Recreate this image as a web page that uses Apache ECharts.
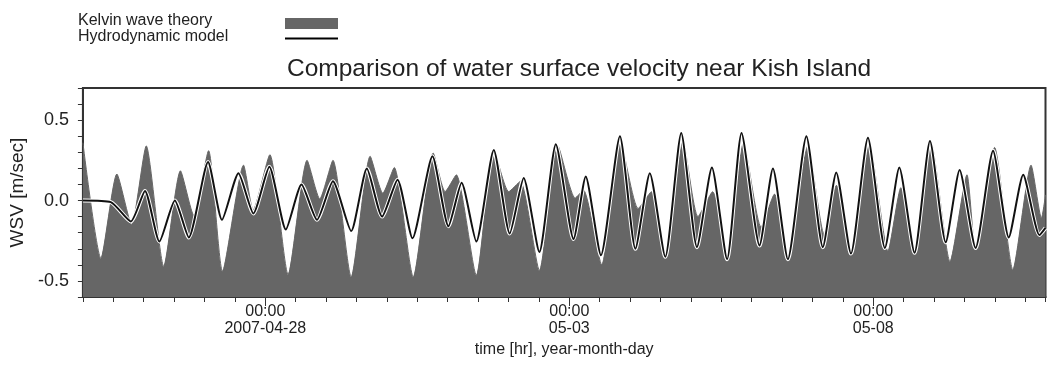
<!DOCTYPE html>
<html>
<head>
<meta charset="utf-8">
<script src="https://cdn.jsdelivr.net/npm/echarts@6/dist/echarts.min.js"></script>
<style>
html,body{margin:0;padding:0;background:#fff;}
#chart{width:1047px;height:377px;}
</style>
</head>
<body>
<div id="chart"></div>
<script>
// Hours since 2007-04-25 00:00
const kelvinHours = [0, 7.1, 13.4, 19.2, 25.0, 31.9, 38.5, 43.7, 49.6, 55.1, 63.4, 67.2, 73.8, 81.0, 88.5, 93.5, 98.7, 105.9, 113.4, 118.4, 122.9, 130.4, 138.3, 143.0, 147.4, 155.3, 162.2, 168.1, 172.7, 180.2, 187.5, 194.3, 197.6, 204.8, 212.0, 219.2, 224.4, 230.3, 236.9, 242.8, 248.6, 254.5, 260.8, 267.7, 273.0, 278.3, 286.2, 292.6, 297.5, 303.2, 310.5, 317.8, 322.9, 328.2, 334.9, 342.3, 349.0, 352.3, 359.9, 367.1, 374.3, 378.4, 380];
const kelvinValues = [0.36, -0.36, 0.165, -0.15, 0.34, -0.41, 0.185, -0.09, 0.31, -0.44, 0.22, -0.06, 0.285, -0.46, 0.25, 0.01, 0.25, -0.475, 0.275, 0.045, 0.205, -0.475, 0.295, 0.055, 0.16, -0.465, 0.315, 0.055, 0.12, -0.435, 0.34, 0.015, 0.065, -0.40, 0.38, -0.05, 0.055, -0.36, 0.37, -0.10, 0.055, -0.34, 0.36, -0.165, 0.04, -0.35, 0.34, -0.21, 0.095, -0.33, 0.35, -0.315, 0.08, -0.32, 0.355, -0.38, 0.16, -0.30, 0.33, -0.43, 0.22, -0.11, 0.035];
const hydroHours = [0, 11.0, 18.9, 24.5, 30.2, 36.3, 41.8, 49.4, 54.9, 61.4, 67.3, 73.6, 80.1, 86.3, 92.4, 98.7, 105.9, 112.1, 118.1, 124.2, 130.1, 138.0, 144.3, 149.5, 155.3, 162.2, 168.5, 174.0, 180.2, 186.7, 193.7, 198.5, 204.5, 212.0, 218.1, 223.8, 229.9, 236.2, 242.4, 248.3, 254.3, 260.0, 267.1, 272.4, 278.3, 285.6, 292.1, 297.4, 303.2, 309.9, 316.6, 322.3, 328.3, 334.4, 340.6, 346.1, 352.4, 359.3, 365.5, 371.2, 377.6, 380];
const hydroValues = [0.0, -0.01, -0.13, 0.06, -0.255, 0.0, -0.23, 0.24, -0.12, 0.17, -0.08, 0.21, -0.18, 0.10, -0.12, 0.12, -0.19, 0.20, -0.10, 0.13, -0.235, 0.275, -0.16, 0.11, -0.255, 0.315, -0.205, 0.14, -0.32, 0.35, -0.24, 0.15, -0.34, 0.40, -0.30, 0.17, -0.35, 0.42, -0.29, 0.205, -0.365, 0.42, -0.28, 0.20, -0.365, 0.40, -0.29, 0.175, -0.33, 0.39, -0.295, 0.205, -0.325, 0.37, -0.26, 0.19, -0.295, 0.31, -0.23, 0.16, -0.215, -0.17];
const labelHours = [72, 192, 312];
const labelTexts = ['00:00\n2007-04-28', '00:00\n05-03', '00:00\n05-08'];
const yLabelValues = [-0.5, 0.0, 0.5];

const FONT = '"Liberation Sans", Arial, sans-serif';
const kelvinData = kelvinHours.map((h, i) => [h, kelvinValues[i]]);
const hydroData = hydroHours.map((h, i) => [h, hydroValues[i]]);

const chart = echarts.init(document.getElementById('chart'), null, {renderer: 'canvas'});
chart.setOption({
  animation: false,
  backgroundColor: '#fff',
  textStyle: {fontFamily: FONT},
  title: {
    text: 'Comparison of water surface velocity near Kish Island',
    left: 287, top: 57, padding: 0,
    textStyle: {fontSize: 24.5, fontWeight: 'normal', color: '#222', fontFamily: FONT}
  },
  graphic: [
    {type: 'text', left: 78, top: 13, style: {text: 'Kelvin wave theory', font: '16px ' + FONT, fill: '#222'}},
    {type: 'text', left: 78, top: 29, style: {text: 'Hydrodynamic model', font: '16px ' + FONT, fill: '#222'}},
    {type: 'rect', shape: {x: 285, y: 18, width: 53, height: 11}, style: {fill: '#666'}},
    {type: 'line', shape: {x1: 285, y1: 38.5, x2: 338, y2: 38.5}, style: {stroke: '#000', lineWidth: 2}}
  ],
  grid: {left: 78, right: 1.5, top: 88, bottom: 80, show: true, borderColor: '#333', borderWidth: 2, backgroundColor: 'transparent'},
  xAxis: [
    {
      type: 'value', min: 0, max: 380, interval: 12, position: 'bottom',
      axisLine: {show: true, onZero: false, lineStyle: {color: '#333', width: 2}},
      axisTick: {show: true, length: 5, lineStyle: {color: '#333'}},
      axisLabel: {show: false},
      splitLine: {show: false}
    },
    {
      type: 'value', min: 0, max: 380, position: 'bottom',
      axisLine: {show: false, onZero: false},
      axisTick: {show: true, length: 9, customValues: labelHours, lineStyle: {color: '#333'}},
      axisLabel: {
        show: true, customValues: labelHours, margin: 6,
        fontSize: 16, lineHeight: 17, color: '#222', fontFamily: FONT,
        formatter: v => { const i = labelHours.indexOf(v); return i >= 0 ? labelTexts[i] : ''; }
      },
      splitLine: {show: false},
      name: 'time [hr], year-month-day', nameLocation: 'middle', nameGap: 43,
      nameTextStyle: {fontSize: 16, color: '#222', fontFamily: FONT}
    }
  ],
  yAxis: {
    type: 'value', min: -0.6, max: 0.7, interval: 0.1,
    axisLine: {show: true, lineStyle: {color: '#333', width: 2}},
    axisTick: {show: true, length: 5, lineStyle: {color: '#333'}},
    axisLabel: {
      fontSize: 18, color: '#222', margin: 14, fontFamily: FONT,
      formatter: v => {
        const r = Math.round(v * 10) / 10;
        return yLabelValues.some(y => Math.abs(y - r) < 1e-6) ? r.toFixed(1) : '';
      }
    },
    splitLine: {show: false},
    name: 'WSV [m/sec]', nameLocation: 'middle', nameGap: 42,
    nameTextStyle: {fontSize: 19, color: '#222', fontFamily: FONT}
  },
  series: [
    {
      name: 'Kelvin wave theory', type: 'line', xAxisIndex: 0, data: kelvinData,
      symbol: 'none', smooth: 0.2,
      lineStyle: {width: 1, color: '#666'},
      areaStyle: {color: '#666', opacity: 1, origin: 'start'},
      z: 1
    },
    {
      name: 'outline', type: 'line', xAxisIndex: 0, data: hydroData,
      symbol: 'none', smooth: 0.2, silent: true,
      lineStyle: {width: 4, color: '#fff'},
      z: 2
    },
    {
      name: 'Hydrodynamic model', type: 'line', xAxisIndex: 0, data: hydroData,
      symbol: 'none', smooth: 0.2,
      lineStyle: {width: 2, color: '#111'},
      z: 3
    }
  ]
});
</script>
</body>
</html>
